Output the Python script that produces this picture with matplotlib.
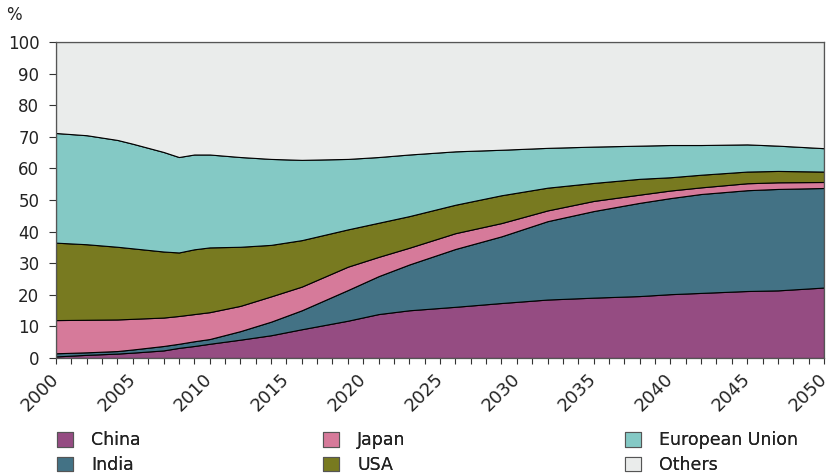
import matplotlib
matplotlib.use("Agg")
import matplotlib.pyplot as plt
from matplotlib.patches import Patch
import numpy as np

# Share of world total (%)
years = [2000, 2002, 2004, 2005, 2007, 2008, 2009, 2010, 2012, 2014, 2016, 2019,
         2021, 2023, 2026, 2029, 2032, 2035, 2038, 2040, 2042, 2045, 2047, 2050]
china = [0.5, 1.0, 1.4, 1.7, 2.4, 3.2, 3.8, 4.5, 5.8, 7.2, 9.1, 11.8,
         13.9, 15.1, 16.2, 17.4, 18.5, 19.1, 19.6, 20.2, 20.6, 21.2, 21.4, 22.3]
india = [1.0, 0.8, 0.8, 1.0, 1.4, 1.3, 1.5, 1.5, 2.7, 4.3, 6.0, 9.7,
         12.0, 14.5, 18.3, 21.1, 24.8, 27.4, 29.5, 30.4, 31.3, 31.9, 32.1, 31.5]
japan = [10.5, 10.3, 10.0, 9.7, 9.0, 8.8, 8.6, 8.5, 8.0, 8.0, 7.5, 7.4,
         6.1, 5.3, 5.0, 4.2, 3.4, 3.2, 2.6, 2.4, 2.1, 2.2, 2.1, 1.9]
usa = [24.5, 23.9, 23.0, 22.3, 20.9, 20.1, 20.5, 20.5, 18.7, 16.3, 14.7, 11.8,
       10.8, 10.0, 9.0, 8.8, 7.2, 5.7, 5.0, 4.2, 4.0, 3.7, 3.6, 3.3]
eu = [34.7, 34.5, 33.8, 33.1, 31.5, 30.2, 30.0, 29.4, 28.4, 27.2, 25.4, 22.3,
      20.8, 19.5, 16.9, 14.4, 12.6, 11.5, 10.5, 10.2, 9.4, 8.6, 8.0, 7.4]
labels = ["China", "India", "Japan", "USA", "European Union", "Others"]
colors = ["#954c82", "#437285", "#d67a9a", "#787a20", "#84c9c5", "#eaeceb"]

others = [100 - (c + i + j + u + e) for c, i, j, u, e in zip(china, india, japan, usa, eu)]

plt.rcParams["font.family"] = ["DejaVu Sans"]

fig = plt.figure(figsize=(8.32, 4.76), dpi=100)
ax = fig.add_axes([56 / 832, 1 - 358 / 476, 768 / 832, 316 / 476])

ax.stackplot(years, china, india, japan, usa, eu, others,
             colors=colors, edgecolor="black", linewidth=0.8)

ax.set_xlim(2000, 2050)
ax.set_ylim(0, 100)
ax.set_yticks(np.arange(0, 101, 10))
ax.set_xticks(np.arange(2000, 2051, 5))
ax.set_xticks(np.arange(2000, 2051, 1), minor=True)
ax.tick_params(axis="y", direction="out", length=5, width=0.8,
               color="#333333", labelsize=12, labelcolor="#222222", pad=7)
ax.tick_params(axis="x", which="both", direction="out", length=4,
               width=0.8, color="#333333", labelsize=13, labelcolor="#222222",
               pad=9)
for lab in ax.get_xticklabels():
    lab.set_rotation(45)
    lab.set_ha("right")
    lab.set_va("center")
    lab.set_rotation_mode("anchor")
for sp in ax.spines.values():
    sp.set_color("#555555")
    sp.set_linewidth(0.9)

fig.text(6 / 832, 1 - 15 / 476, "%", fontsize=12, color="#222222", va="center")

handles = [Patch(facecolor=c, edgecolor="#555555", linewidth=0.8) for c in colors]
col_x = [54 / 832, 320 / 832, 622 / 832]
for k in range(3):
    leg = fig.legend(handles[2 * k:2 * k + 2], labels[2 * k:2 * k + 2],
                     loc="upper left", bbox_to_anchor=(col_x[k], 1 - 428 / 476),
                     frameon=False, fontsize=12.5, handlelength=0.92,
                     handleheight=0.9, handletextpad=1.03, labelspacing=0.38,
                     borderaxespad=0, borderpad=0.2)
    for t in leg.get_texts():
        t.set_color("#222222")
    fig.add_artist(leg)

fig.savefig("out.png", dpi=100)
